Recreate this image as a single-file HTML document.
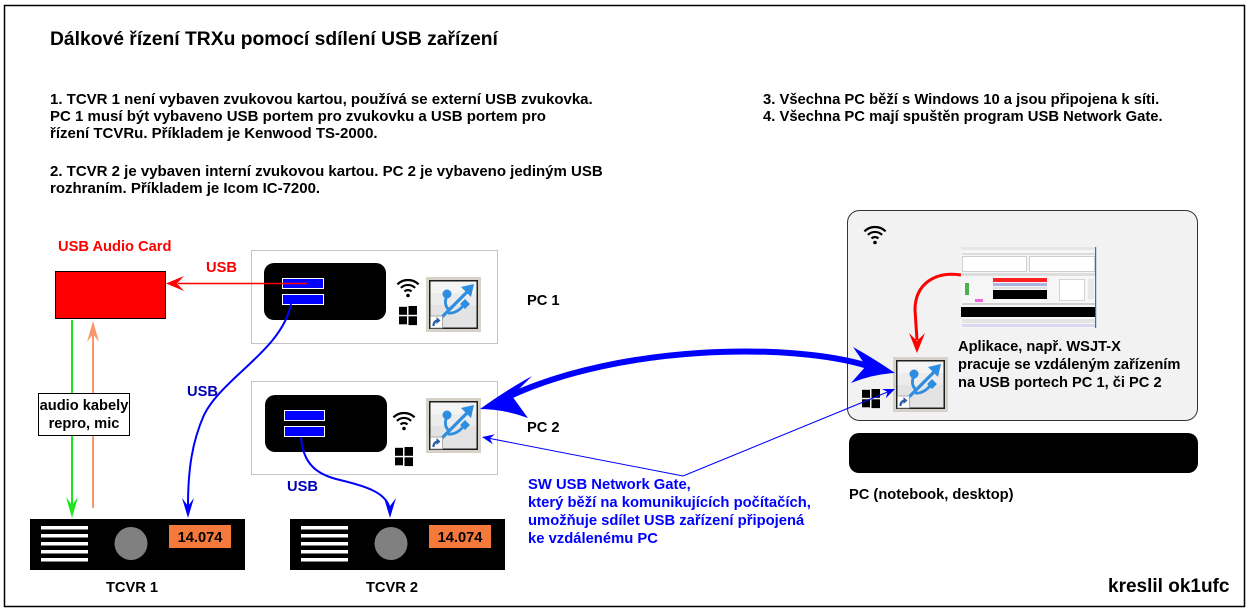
<!DOCTYPE html>
<html>
<head>
<meta charset="utf-8">
<style>
html,body{margin:0;padding:0;background:#fff;}
svg{display:block;}
text{font-family:"Liberation Sans",Arial,sans-serif;font-weight:bold;}
</style>
</head>
<body>
<svg width="1250" height="609" viewBox="0 0 1250 609" xmlns="http://www.w3.org/2000/svg">
<defs>
  <g id="usb">
    <rect x="0" y="0" width="55" height="55" fill="#d6d2c8"/>
    <rect x="3" y="3" width="49" height="49" fill="#1e1e1e"/>
    <rect x="4.5" y="4.5" width="46" height="46" fill="#f4f4f4"/>
    <rect x="4.5" y="16" width="46" height="12" fill="#ececec"/>
    <rect x="4.5" y="28" width="46" height="22.5" fill="#e3e3e3"/>
    <path d="M12 44 L26 30 L43 13" stroke="#2d8de0" stroke-width="3.2" fill="none"/>
    <polygon points="48,7 35,10 45,20" fill="#2d8de0"/>
    <path d="M23 33 Q17 27 21 19" stroke="#2d8de0" stroke-width="2.8" fill="none"/>
    <circle cx="21" cy="17" r="4.5" fill="#2d8de0"/>
    <path d="M22 36 Q30 37 37 29" stroke="#2d8de0" stroke-width="2.8" fill="none"/>
    <rect x="35.5" y="23.5" width="7" height="7" fill="#2d8de0" transform="rotate(45 39 27)"/>
    <rect x="4.5" y="39" width="12" height="12" fill="#fff" stroke="#9a9a9a" stroke-width="0.8"/>
    <path d="M7.5 49 Q7.5 44 12 43.5" stroke="#2a5fa8" stroke-width="2.2" fill="none"/>
    <polygon points="14.5,43.5 10.5,40 10.5,47" fill="#2a5fa8"/>
  </g>
  <g id="wifi">
    <path d="M-10.6 -10.6 A15 15 0 0 1 10.6 -10.6" stroke="#000" stroke-width="2.2" fill="none"/>
    <path d="M-7.1 -7.1 A10 10 0 0 1 7.1 -7.1" stroke="#000" stroke-width="2.2" fill="none"/>
    <path d="M-3.5 -3.5 A5 5 0 0 1 3.5 -3.5" stroke="#000" stroke-width="2.2" fill="none"/>
    <circle cx="0" cy="0.5" r="1.8" fill="#000"/>
  </g>
  <g id="win">
    <rect x="0" y="0.8" width="8" height="8" fill="#000"/>
    <rect x="9.5" y="0" width="8.5" height="8.8" fill="#000"/>
    <rect x="0" y="10.3" width="8" height="8" fill="#000"/>
    <rect x="9.5" y="10.3" width="8.5" height="8.8" fill="#000"/>
  </g>
  <g id="tcvr">
    <rect x="0" y="0" width="215" height="51" fill="#000"/>
    <rect x="11" y="7" width="47" height="3.5" fill="#fff"/>
    <rect x="11" y="15" width="47" height="3.5" fill="#fff"/>
    <rect x="11" y="23" width="47" height="3.5" fill="#fff"/>
    <rect x="11" y="31" width="47" height="3.5" fill="#fff"/>
    <rect x="11" y="39" width="47" height="3.5" fill="#fff"/>
    <circle cx="101" cy="24.5" r="16.5" fill="#808080"/>
    <rect x="139" y="6" width="62" height="23" fill="#f5793b"/>
    <text x="170" y="23" font-size="14.67" text-anchor="middle" fill="#000">14.074</text>
  </g>
</defs>

<!-- outer frame -->
<rect x="4.5" y="5.5" width="1240" height="601" fill="#fff" stroke="#000" stroke-width="1.5"/>

<!-- texts top -->
<text x="50" y="45" font-size="19.3" fill="#000">Dálkové řízení TRXu pomocí sdílení USB zařízení</text>
<g font-size="15" fill="#000">
  <text x="50" y="104">1. TCVR 1 není vybaven zvukovou kartou, používá se externí USB zvukovka.</text>
  <text x="50" y="121">PC 1 musí být vybaveno USB portem pro zvukovku a USB portem pro</text>
  <text x="50" y="138">řízení TCVRu. Příkladem je Kenwood TS-2000.</text>
  <text x="50" y="176">2. TCVR 2 je vybaven interní zvukovou kartou. PC 2 je vybaveno jediným USB</text>
  <text x="50" y="193">rozhraním. Příkladem je Icom IC-7200.</text>
</g>
<g font-size="14.8" fill="#000">
  <text x="763" y="104">3. Všechna PC běží s Windows 10 a jsou připojena k síti.</text>
  <text x="763" y="121">4. Všechna PC mají spuštěn program USB Network Gate.</text>
</g>

<!-- USB audio card -->
<text x="58" y="251" font-size="14.67" fill="#ff0000">USB Audio Card</text>
<rect x="55.5" y="271.5" width="110" height="47" fill="#ff0000" stroke="#000" stroke-width="1"/>
<text x="206" y="272" font-size="14.67" fill="#ff0000">USB</text>

<!-- PC1 -->
<rect x="251.5" y="250.5" width="246" height="93" fill="#fff" stroke="#c4c4c4" stroke-width="1"/>
<rect x="264" y="263" width="122" height="57" rx="10" fill="#000"/>
<rect x="282.5" y="278.5" width="41" height="10" fill="#0000ff" stroke="#fff" stroke-width="1"/>
<rect x="282.5" y="294.5" width="41" height="10" fill="#0000ff" stroke="#fff" stroke-width="1"/>
<line x1="307" y1="283.5" x2="178" y2="283.5" stroke="#ff0000" stroke-width="1.5"/>
<path d="M166 283.5 L184 276 L177 283.5 L184 291 Z" fill="#ff0000"/>
<use href="#wifi" x="408" y="295"/>
<use href="#win" x="399" y="306"/>
<use href="#usb" x="426" y="277"/>
<text x="527" y="305" font-size="14.67" fill="#000">PC 1</text>

<!-- PC2 -->
<rect x="251.5" y="381.5" width="246" height="93" fill="#fff" stroke="#c4c4c4" stroke-width="1"/>
<rect x="265" y="395" width="122" height="57" rx="10" fill="#000"/>
<rect x="284.5" y="410.5" width="40" height="10" fill="#0000ff" stroke="#fff" stroke-width="1"/>
<rect x="284.5" y="426.5" width="40" height="10" fill="#0000ff" stroke="#fff" stroke-width="1"/>
<use href="#wifi" x="404" y="428"/>
<use href="#win" x="395" y="447"/>
<use href="#usb" x="426" y="398"/>
<text x="527" y="432" font-size="14.67" fill="#000">PC 2</text>

<!-- blue USB cables -->
<path d="M291 304 C 282 350, 222 378, 204 415 C 192 442, 188 470, 188 506" stroke="#0000ff" stroke-width="2" fill="none"/>
<path d="M188 518 L182 498 L188 506 L194 498 Z" fill="#0000ff"/>
<text x="187" y="396" font-size="14.67" fill="#0000b4">USB</text>

<path d="M301 437 C 303 465, 318 475, 340 480 C 365 486, 384 492, 389 506" stroke="#0000ff" stroke-width="2" fill="none"/>
<path d="M390 518 L384 498 L390 506 L396 498 Z" fill="#0000ff"/>
<text x="287" y="491" font-size="14.67" fill="#0000b4">USB</text>

<!-- audio cables -->
<line x1="72" y1="320" x2="72" y2="508" stroke="#1ee61e" stroke-width="2"/>
<path d="M72 518 L66 497 L72 505 L78 497 Z" fill="#1ee61e"/>
<line x1="93" y1="330" x2="93" y2="508" stroke="#f8956a" stroke-width="2"/>
<path d="M93 321 L87 342 L93 334 L99 342 Z" fill="#f8956a"/>
<rect x="38.5" y="393.5" width="91" height="42" fill="#fff" stroke="#000" stroke-width="1"/>
<text x="84" y="410" font-size="14.67" text-anchor="middle" fill="#000">audio kabely</text>
<text x="84" y="428" font-size="14.67" text-anchor="middle" fill="#000">repro, mic</text>

<!-- TCVRs -->
<use href="#tcvr" x="30" y="519"/>
<use href="#tcvr" x="290" y="519"/>
<text x="132" y="592" font-size="14.67" text-anchor="middle" fill="#000">TCVR 1</text>
<text x="392" y="592" font-size="14.67" text-anchor="middle" fill="#000">TCVR 2</text>

<!-- right PC -->
<rect x="847.5" y="210.5" width="350" height="210" rx="12" fill="#f2f2f2" stroke="#333" stroke-width="1"/>
<use href="#wifi" x="875" y="242"/>
<!-- screenshot mockup -->
<g>
  <rect x="961" y="247" width="135" height="81" fill="#f6f6f6"/>
  <rect x="961" y="247" width="135" height="3" fill="#e6e6ea"/>
  <rect x="962" y="253" width="133" height="2" fill="#dcdcdc"/>
  <rect x="962.5" y="256.5" width="64" height="15" fill="#fff" stroke="#bbb" stroke-width="0.7"/>
  <rect x="1029.5" y="256.5" width="65" height="15" fill="#fff" stroke="#bbb" stroke-width="0.7"/>
  <rect x="962" y="273" width="133" height="3" fill="#dddddd"/>
  <rect x="993" y="278" width="54" height="4" fill="#ff2020"/>
  <rect x="993" y="283" width="54" height="3" fill="#aab4e0"/>
  <rect x="993" y="287" width="54" height="2" fill="#e0e0e0"/>
  <rect x="993" y="290" width="54" height="9" fill="#000"/>
  <rect x="965" y="283" width="4" height="12" fill="#4caf50"/>
  <rect x="1059.5" y="279.5" width="25" height="21" fill="#fff" stroke="#bbb" stroke-width="0.6"/>
  <rect x="1088" y="279" width="6" height="20" fill="#e8e8e8"/>
  <rect x="975" y="299" width="8" height="3" fill="#ee66dd"/>
  <rect x="962" y="303" width="133" height="2" fill="#d0d0d0"/>
  <rect x="961" y="307" width="135" height="10" fill="#000"/>
  <rect x="962" y="319" width="133" height="4" fill="#e4e4e4"/>
  <rect x="962" y="324" width="133" height="3" fill="#d8d8ee"/>
  <rect x="1095" y="247" width="1.2" height="81" fill="#3366ee"/>
</g>
<path d="M961 275 C 935 271, 915 284, 915 310 L 917 340" stroke="#ff0000" stroke-width="3" fill="none"/>
<path d="M917 353 L909 333 L917 341 L925 333 Z" fill="#ff0000"/>
<use href="#usb" x="893" y="357"/>
<use href="#win" x="862" y="389"/>
<g font-size="14.67" fill="#000">
  <text x="958" y="351">Aplikace, např.  WSJT-X</text>
  <text x="958" y="369">pracuje se vzdáleným zařízením</text>
  <text x="958" y="387">na USB portech PC 1, či PC 2</text>
</g>
<rect x="849" y="433" width="349" height="40" rx="10" fill="#000"/>
<text x="849" y="499" font-size="14.67" fill="#000">PC (notebook, desktop)</text>

<!-- big double arrow -->
<path d="M510 396 C 620 345, 790 342, 868 366" stroke="#0000ff" stroke-width="6" fill="none"/>
<path d="M480 409 Q505 391 532 376 L512 396 L528 418 Q503 409 480 409 Z" fill="#0000ff"/>
<path d="M895 373 Q873 358 853 347 L866 366 L851 383 Q873 374 895 373 Z" fill="#0000ff"/>

<!-- thin lines -->
<line x1="683" y1="476" x2="490" y2="438.5" stroke="#0000ff" stroke-width="1"/>
<path d="M482 437 L494.7 434.4 L489.8 438.5 L492.8 444.2 Z" fill="#0000ff"/>
<line x1="683" y1="476" x2="887.6" y2="392" stroke="#0000ff" stroke-width="1"/>
<path d="M895 389 L882 389 L887.6 392 L885.8 398.2 Z" fill="#0000ff"/>

<g font-size="14.8" fill="#0000ff">
  <text x="528" y="489">SW USB Network Gate,</text>
  <text x="528" y="507">který běží na komunikujících počítačích,</text>
  <text x="528" y="525">umožňuje sdílet USB zařízení připojená</text>
  <text x="528" y="543">ke vzdálenému PC</text>
</g>

<text x="1108" y="592" font-size="19" fill="#000">kreslil ok1ufc</text>
</svg>
</body>
</html>
